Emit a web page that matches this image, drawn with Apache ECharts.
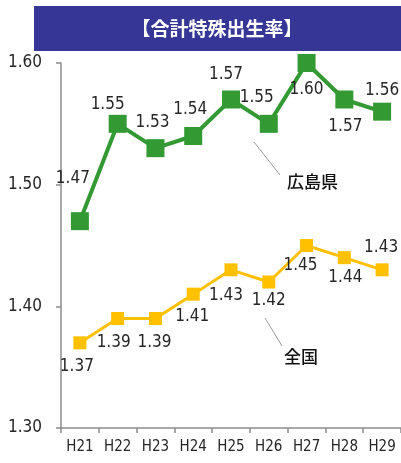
<!DOCTYPE html>
<html>
<head>
<meta charset="utf-8">
<script src="https://cdn.jsdelivr.net/npm/echarts@6/dist/echarts.min.js"></script>
<style>
html,body{margin:0;padding:0;background:#fff;}
#c{width:401px;height:463px;}
</style>
</head>
<body>
<div id="c"></div>
<script>
const categories = ['H21','H22','H23','H24','H25','H26','H27','H28','H29'];
const hiroshima = [1.47,1.55,1.53,1.54,1.57,1.55,1.60,1.57,1.56];
const national = [1.37,1.39,1.39,1.41,1.43,1.42,1.45,1.44,1.43];
const yTicks = [1.30,1.40,1.50,1.60];
const titleText = '【合計特殊出生率】';
const hiroshimaName = '広島県';
const nationalName = '全国';

// label offsets (style only)
const greenOffsets = [[-7,-43],[-10,-19],[-3,-26],[-3,-26],[-5,-25],[-12,-26],[0,27],[1,27],[0,-21]];
const yellowOffsets = [[-3,24],[-4,24],[-1,24],[-1,22],[-5,26],[0,19],[-6,20],[1,20],[-1,-22]];

const NUM_FONT = '"DejaVu Sans Condensed","Liberation Sans Narrow",sans-serif';
const CJK_FONT = '"Noto Sans CJK JP","Noto Sans",sans-serif';

function buildData(vals, offs){
  return vals.map((v,i)=>({
    value: v,
    label: {offset: offs[i]}
  }));
}

const chart = echarts.init(document.getElementById('c'));
chart.setOption({
  animation: false,
  backgroundColor: '#fff',
  grid: {left: 61, right: 0, top: 63, bottom: 35, containLabel: false},
  xAxis: {
    type: 'category',
    data: categories,
    boundaryGap: true,
    axisLine: {lineStyle: {color: '#8c8c8c', width: 1.5}},
    axisTick: {show: true, length: 5, interval: 0, lineStyle: {color: '#8c8c8c', width: 1.5}},
    axisLabel: {interval: 0, color: '#262626', fontFamily: NUM_FONT, fontSize: 15, margin: 12}
  },
  yAxis: {
    type: 'value',
    min: 1.3, max: 1.6, interval: 0.1,
    axisLine: {show: true, lineStyle: {color: '#8c8c8c', width: 1.5}},
    axisTick: {show: true, length: 5, lineStyle: {color: '#8c8c8c', width: 1.5}},
    splitLine: {show: false},
    axisLabel: {
      color: '#262626', fontFamily: NUM_FONT, fontSize: 17, margin: 19,
      formatter: v => yTicks.find(t => Math.abs(t - v) < 1e-6) !== undefined ? v.toFixed(2) : ''
    }
  },
  graphic: [
    {type: 'rect', shape: {x: 34, y: 6, width: 367, height: 45}, style: {fill: '#363696'}, z: 10},
    {type: 'text', x: 217, y: 29, z: 11,
      style: {text: titleText, fill: '#fff', font: 'bold 19px ' + CJK_FONT, textAlign: 'center', textVerticalAlign: 'middle'}},
    {type: 'line', shape: {x1: 254, y1: 142, x2: 280, y2: 175}, style: {stroke: '#9a9a9a', lineWidth: 1}, z: 10},
    {type: 'text', x: 287, y: 182, z: 11,
      style: {text: hiroshimaName, fill: '#111', font: '500 17px ' + CJK_FONT, textAlign: 'left', textVerticalAlign: 'middle'}},
    {type: 'line', shape: {x1: 265, y1: 318, x2: 282, y2: 346}, style: {stroke: '#9a9a9a', lineWidth: 1}, z: 10},
    {type: 'text', x: 284, y: 357, z: 11,
      style: {text: nationalName, fill: '#111', font: '500 17px ' + CJK_FONT, textAlign: 'left', textVerticalAlign: 'middle'}}
  ],
  series: [
    {
      name: hiroshimaName,
      type: 'line',
      data: buildData(hiroshima, greenOffsets),
      symbol: 'rect', symbolSize: 18,
      lineStyle: {color: '#339933', width: 4},
      itemStyle: {color: '#339933'},
      label: {show: true, position: 'inside', color: '#262626', fontFamily: NUM_FONT, fontSize: 17,
        formatter: p => p.value.toFixed(2)},
      z: 3
    },
    {
      name: nationalName,
      type: 'line',
      data: buildData(national, yellowOffsets),
      symbol: 'rect', symbolSize: 13,
      lineStyle: {color: '#FFC000', width: 3},
      itemStyle: {color: '#FFC000'},
      label: {show: true, position: 'inside', color: '#262626', fontFamily: NUM_FONT, fontSize: 17,
        formatter: p => p.value.toFixed(2)},
      z: 3
    }
  ]
});
</script>
</body>
</html>
